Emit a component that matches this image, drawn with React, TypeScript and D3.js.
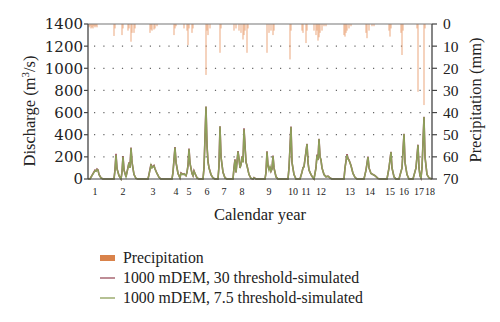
import React from "react";
import * as d3 from "d3";

const W = 500;
const H = 322;

// time index (arbitrary steps along the 18-year record)
const timeDomain = [0, 344];
const dischargeTicks = [0, 200, 400, 600, 800, 1000, 1200, 1400];
const precipTicks = [0, 10, 20, 30, 40, 50, 60, 70];
const yearLabels = ["1","2","3","4","5","6","7","8","9","10","11","12","13","14","15","16","17","18"];
const yearLabelPos = [7, 35, 65, 88, 101, 119, 136, 154, 181, 205, 218, 233, 262, 282, 302, 316, 331, 342];

// precipitation [time, mm]
const precipitation: [number, number][] = [
  [1,1.5],[2,1],[3,2],[4,1.5],[5,2],[6,1],[7,1.5],[8,1],[9,1.5],
  [26,5.4],[27,2],[34,5],[35,2],[40,3],[41,2],[43,8],[44,4],[46,4],[47,2],
  [62,4],[63,2.5],[64,3],[66,2.5],[67,2],[69,1],
  [86,5],[87,2],[88,1],
  [96,2],[99,3],[100,9.5],[101,2],[104,4],[105,2],
  [118,23],[119,3],[120,5],[122,2],
  [132,13],[133,2],
  [146,3],[148,2],[151,3],[153,4],[155,7],[156,5],[157,3],[159,13],[160,2],
  [179,13],[181,4],[183,3],[185,5],[186,3],
  [202,16],[203,3],
  [214,3],[215,4],[218,8.6],[219,3],
  [226,3],[228,5],[229,3],[230,7.5],[231,6],[232,4],[234,3],[236,1],[238,1],
  [256,5],[257,5.7],[258,4],[259,3],[261,2],[263,1],
  [278,4],[279,6.4],[281,3],[284,1],[286,1],
  [301,3],[302,5.7],[303,2],
  [313,4],[314,14],[315,3],
  [329,2],[330,30.6],[336,36.6],[337,2],
];

// 1000 mDEM, 7.5 threshold-simulated [time, m3/s]
const sim75: [number, number][] = [
  [0,0],[2,0],[4,30],[6,60],[7,75],[8,70],[9,85],[10,80],[11,40],[13,10],[15,0],
  [26,0],[27,80],[28,217],[29,90],[31,30],[33,0],[34,60],[35,201],[36,80],[38,20],[39,60],[41,145],[42,100],[43,280],[44,150],[46,40],[48,5],[50,0],
  [60,0],[61,40],[63,126],[64,100],[65,110],[66,117],[67,90],[69,50],[71,15],[73,0],
  [84,0],[85,60],[87,283],[88,150],[90,50],[92,10],[93,50],[95,40],[96,45],[98,30],[99,60],[100,120],[101,271],[102,140],[104,50],[105,30],[106,70],[107,50],[109,10],[111,0],
  [115,0],[116,100],[118,653],[119,300],[120,150],[121,100],[123,40],[125,10],[127,0],
  [130,0],[131,120],[132,473],[133,200],[135,60],[137,10],[139,0],
  [145,0],[146,100],[147,172],[148,60],[150,247],[151,180],[152,100],[153,130],[154,200],[155,150],[156,450],[157,300],[158,150],[159,120],[161,40],[163,5],[165,0],[166,12],[168,0],
  [177,0],[178,60],[179,245],[180,120],[181,80],[182,110],[183,70],[184,90],[185,208],[186,100],[188,20],[190,0],
  [200,0],[201,100],[203,470],[204,150],[206,40],[208,0],
  [212,0],[214,60],[215,100],[216,110],[219,315],[220,150],[221,80],[223,40],[225,10],[226,0],
  [228,100],[229,215],[230,170],[231,360],[232,200],[233,170],[234,100],[236,40],[238,20],[240,25],[242,10],[244,0],
  [256,0],[257,100],[259,215],[260,180],[261,170],[263,120],[265,50],[267,15],[269,0],
  [276,0],[278,80],[280,198],[281,100],[283,50],[285,40],[287,30],[290,5],[292,0],
  [299,0],[301,100],[303,244],[304,100],[306,20],[308,0],
  [311,0],[314,100],[316,406],[317,150],[319,40],[321,0],
  [325,0],[328,100],[330,307],[331,100],[332,30],[333,10],[334,100],[336,560],[337,200],[339,40],[341,10],[344,0],
];

// 1000 mDEM, 30 threshold-simulated [time, m3/s]
const sim30: [number, number][] = [
  [0,0],[2,0],[4,32],[6,65],[7,80],[8,74],[9,90],[10,82],[11,42],[13,10],[15,0],
  [26,0],[27,85],[28,228],[29,95],[31,30],[33,0],[34,62],[35,208],[36,82],[38,20],[39,62],[41,150],[42,104],[43,285],[44,152],[46,40],[48,5],[50,0],
  [60,0],[61,42],[63,134],[64,104],[65,114],[66,122],[67,92],[69,50],[71,15],[73,0],
  [84,0],[85,62],[87,288],[88,152],[90,50],[92,10],[93,55],[95,42],[96,48],[98,30],[99,62],[100,122],[101,276],[102,142],[104,50],[105,30],[106,74],[107,50],[109,10],[111,0],
  [115,0],[116,100],[118,655],[119,305],[120,160],[121,102],[123,40],[125,10],[127,0],
  [130,0],[131,120],[132,476],[133,200],[135,60],[137,10],[139,0],
  [145,0],[146,102],[147,178],[148,60],[150,252],[151,182],[152,100],[153,132],[154,205],[155,152],[156,458],[157,305],[158,155],[159,122],[161,40],[163,5],[165,0],[166,12],[168,0],
  [177,0],[178,60],[179,250],[180,120],[181,80],[182,112],[183,70],[184,90],[185,212],[186,100],[188,20],[190,0],
  [200,0],[201,100],[203,474],[204,150],[206,40],[208,0],
  [212,0],[214,62],[215,102],[216,112],[219,318],[220,150],[221,80],[223,40],[225,10],[226,0],
  [228,102],[229,220],[230,172],[231,364],[232,202],[233,172],[234,100],[236,40],[238,20],[240,25],[242,10],[244,0],
  [256,0],[257,100],[259,225],[260,185],[261,172],[263,122],[265,50],[267,15],[269,0],
  [276,0],[278,80],[280,202],[281,100],[283,50],[285,40],[287,30],[290,5],[292,0],
  [299,0],[301,100],[303,246],[304,100],[306,20],[308,0],
  [311,0],[314,100],[316,408],[317,150],[319,40],[321,0],
  [325,0],[328,100],[330,310],[331,100],[332,30],[333,10],[334,100],[336,562],[337,200],[339,40],[341,10],[344,0],
];

const legendItems = [
  { label: "Precipitation", kind: "rect", color: "#d9824a" },
  { label: "1000 mDEM, 30 threshold-simulated", kind: "line", color: "#9b4f5e" },
  { label: "1000 mDEM, 7.5 threshold-simulated", kind: "line", color: "#8da05a" },
];

const FONT = "'Liberation Serif', 'Times New Roman', serif";
const FONT_WIDE = "'DejaVu Serif', serif";

export default function App() {
  const left = 88, right = 432, top = 24, bottom = 179;
  const x = d3.scaleLinear().domain(timeDomain).range([left, right]);
  const yQ = d3.scaleLinear().domain([0, 1400]).range([bottom, top]);
  const yP = d3.scaleLinear().domain([0, 70]).range([top, bottom]);
  const line = d3.line<[number, number]>().x(d => x(d[0])).y(d => yQ(d[1])).curve(d3.curveLinear);

  return (
    <svg width={W} height={H} style={{ position: "absolute", left: 0, top: 0, background: "#fff" }}>
      {/* grid */}
      {dischargeTicks.filter(t => t > 0 && t < 1400).map(t => (
        <line key={t} x1={left + 6} x2={right - 2} y1={yQ(t)} y2={yQ(t)}
          stroke="#666" strokeWidth={1.2} strokeDasharray="1.2 8.1" />
      ))}
      {/* precipitation bars */}
      {precipitation.map(([t, v], i) => (
        <rect key={i} x={x(t) - 0.6} y={yP(0)} width={1.2} height={yP(v) - yP(0)}
          fill="#e89e70" opacity={0.75} />
      ))}
      {/* discharge lines */}
      <path d={line(sim30) || ""} fill="none" stroke="#9b4f5e" strokeWidth={1.6} />
      <path d={line(sim75) || ""} fill="none" stroke="#8da05a" strokeWidth={1.5} />
      {/* frame */}
      <line x1={left} x2={right} y1={top} y2={top} stroke="#777" strokeWidth={1.2} />
      <line x1={left} x2={right} y1={bottom} y2={bottom} stroke="#444" strokeWidth={1.2} />
      <line x1={left} x2={left} y1={top} y2={bottom} stroke="#444" strokeWidth={1.3} />
      <line x1={right} x2={right} y1={top} y2={bottom} stroke="#444" strokeWidth={1.3} />
      {/* left axis */}
      {dischargeTicks.map(t => (
        <g key={t}>
          <line x1={left - 4} x2={left} y1={yQ(t)} y2={yQ(t)} stroke="#444" strokeWidth={1.2} />
          <text x={left - 5} y={yQ(t)} dy="0.36em" textAnchor="end" fontFamily={FONT_WIDE} fontSize={15} fill="#222">{t}</text>
        </g>
      ))}
      {/* right axis */}
      {precipTicks.map(t => (
        <g key={t}>
          <line x1={right} x2={right + 5} y1={yP(t)} y2={yP(t)} stroke="#444" strokeWidth={1.2} />
          <text x={right + 11} y={yP(t)} dy="0.35em" textAnchor="start" fontFamily={FONT} fontSize={15.5} fill="#222">{t}</text>
        </g>
      ))}
      {/* x labels */}
      {yearLabels.map((l, i) => (
        <text key={l} x={x(yearLabelPos[i])} y={195} textAnchor="middle" fontFamily={FONT} fontSize={10} fill="#222">{l}</text>
      ))}
      {/* titles */}
      <text transform={`translate(35,111) rotate(-90)`} textAnchor="middle" fontFamily={FONT} fontSize={16.5} fill="#222">
        Discharge (m<tspan dy="-6" fontSize={11}>3</tspan><tspan dy="6">/s)</tspan>
      </text>
      <text transform={`translate(481,100) rotate(-90)`} textAnchor="middle" fontFamily={FONT} fontSize={16.5} fill="#222">Precipitation (mm)</text>
      <text x={260} y={220} textAnchor="middle" fontFamily={FONT} fontSize={16.5} fill="#222">Calendar year</text>
      {/* legend */}
      {legendItems.map((it, i) => {
        const cy = 258 + i * 20;
        return (
          <g key={it.label}>
            {it.kind === "rect"
              ? <rect x={100} y={cy - 3} width={15} height={6} fill={it.color} />
              : <line x1={100} x2={115} y1={cy} y2={cy} stroke={it.color} strokeWidth={1.3} />}
            <text x={123} y={cy} dy="0.33em" fontFamily={FONT} fontSize={15.8} fill="#222">{it.label}</text>
          </g>
        );
      })}
    </svg>
  );
}
